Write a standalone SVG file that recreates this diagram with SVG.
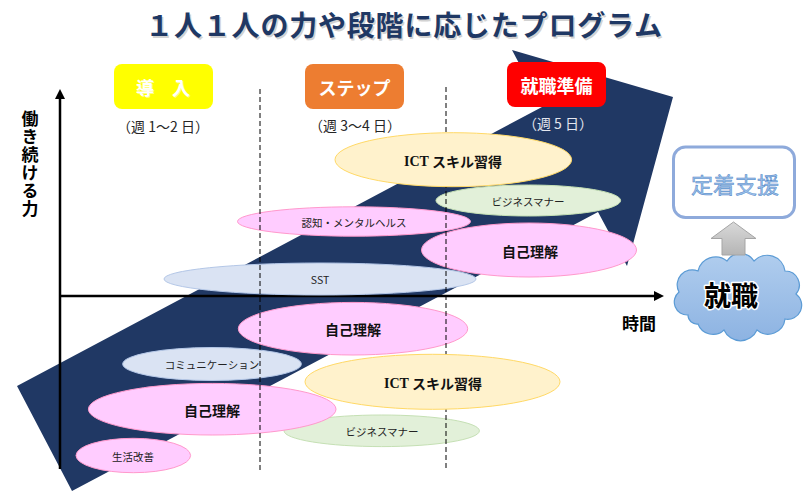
<svg xmlns="http://www.w3.org/2000/svg" width="806" height="494" viewBox="0 0 806 494">
  <defs>
    <style>
      .jp { font-family: "Noto Sans CJK JP", "Noto Sans", sans-serif; }
      .c { text-anchor: middle; dominant-baseline: central; }
      .b { font-weight: 700; }
      .pink { fill: #FFCCFF; stroke: #FF99CC; stroke-width: 1; }
      .blue { fill: #DAE3F3; stroke: #B4C7E7; stroke-width: 1; }
      .green { fill: #E2F0D9; stroke: #C5E0B4; stroke-width: 1; }
      .yel { fill: #FFF2CC; stroke: #FFD966; stroke-width: 1; }
      .big { font-size: 14px; fill: #111; }
      .sm { font-size: 10.5px; fill: #222; }
      .phase { font-size: 18px; fill: #fff; font-weight: 700; }
      .week { font-size: 14px; fill: #262626; }
      .dash { stroke: #000; stroke-width: 1; stroke-dasharray: 5 3; fill: none; }
      .axis { stroke: #000; stroke-width: 2.5; fill: none; }
    </style>
    <marker id="ah" viewBox="0 0 10 10" refX="2" refY="5" markerWidth="4" markerHeight="4" orient="auto" markerUnits="strokeWidth">
      <path d="M0,0 L10,5 L0,10 Z" fill="#000"/>
    </marker>
    <linearGradient id="gArrow" x1="0" y1="0" x2="0" y2="1">
      <stop offset="0" stop-color="#D9D9D9"/>
      <stop offset="1" stop-color="#B5B5B5"/>
    </linearGradient>
    <linearGradient id="gCloud" x1="0" y1="0" x2="0" y2="1">
      <stop offset="0" stop-color="#B0CDEE"/>
      <stop offset="1" stop-color="#8DB3E2"/>
    </linearGradient>
  </defs>

  <!-- Title -->
  <g id="title">
    <text x="405.5" y="37.5" class="jp b" font-size="28" letter-spacing="0.8" text-anchor="middle" fill="#BFBFBF" opacity="0.7">１人１人の力や段階に応じたプログラム</text>
    <text x="404" y="36" class="jp b" font-size="28" letter-spacing="0.8" text-anchor="middle" fill="#1F3864">１人１人の力や段階に応じたプログラム</text>
  </g>

  <!-- Big progress arrow -->
  <g id="progress-arrow">
    <polygon points="17,386 542,107 512,50 673,97 627,266 598,212 72,491" fill="#203864"/>
  </g>

  <!-- Axes -->
  <g id="axes">
    <line class="axis" x1="60" y1="469" x2="60" y2="97" marker-end="url(#ah)"/>
    <line class="axis" x1="59" y1="296" x2="656" y2="296" marker-end="url(#ah)"/>
    <text x="30" y="110" class="jp b" font-size="17" letter-spacing="1" fill="#000" writing-mode="vertical-rl">働き続ける力</text>
    <text x="639" y="322" class="jp c b" font-size="17" fill="#000">時間</text>
  </g>

  <!-- Phase headers -->
  <g id="phase-intro">
    <rect x="114" y="64" width="99" height="45" rx="8" fill="#FFFF00"/>
    <text x="164" y="87.5" class="jp c phase" fill="#999" opacity="0.5">導　入</text>
    <text x="163" y="86.5" class="jp c phase">導　入</text>
    <text x="163" y="125.5" class="jp c week">（週 1～2 日）</text>
  </g>
  <g id="phase-step">
    <rect x="305" y="64" width="99" height="45" rx="8" fill="#ED7D31"/>
    <text x="354.5" y="86.5" class="jp c phase" font-size="19">ステップ</text>
    <text x="355" y="124.5" class="jp c week">（週 3～4 日）</text>
  </g>
  <g id="phase-prep">
    <rect x="507" y="62" width="99" height="45" rx="8" fill="#FF0000"/>
    <text x="556.5" y="84.5" class="jp c phase">就職準備</text>
    <text x="558" y="122.5" class="jp c week" style="fill:#E4E6EE">（週 5 日）</text>
  </g>

  <!-- Program ellipses (behind dashed lines) -->
  <g id="node-ninchi">
    <ellipse class="pink" cx="354" cy="221.5" rx="116.5" ry="14.7"/>
    <text x="354" y="222" class="jp c sm">認知・メンタルヘルス</text>
  </g>
  <g id="node-business-upper">
    <ellipse class="green" cx="528.3" cy="200.5" rx="92.3" ry="15.5"/>
    <text x="528" y="201" class="jp c sm">ビジネスマナー</text>
  </g>
  <g id="node-sst">
    <ellipse class="blue" cx="320" cy="279" rx="156" ry="16"/>
    <text x="320" y="279.5" class="jp c sm" font-size="10">SST</text>
  </g>
  <g id="node-jiko-upper">
    <ellipse class="pink" cx="529" cy="250" rx="107.5" ry="27"/>
    <text x="530" y="251" class="jp c b big">自己理解</text>
  </g>
  <g id="node-jiko-mid">
    <ellipse class="pink" cx="353" cy="328.7" rx="114.7" ry="26.3"/>
    <text x="353" y="329" class="jp c b big">自己理解</text>
  </g>
  <g id="node-comm">
    <ellipse class="blue" cx="212" cy="364" rx="89.3" ry="16.5"/>
    <text x="212" y="364.5" class="jp c sm">コミュニケーション</text>
  </g>
  <g id="node-business-lower">
    <ellipse class="green" cx="381.7" cy="430.8" rx="97.7" ry="15.8"/>
    <text x="382" y="431.5" class="jp c sm">ビジネスマナー</text>
  </g>
  <g id="node-jiko-lower">
    <ellipse class="pink" cx="212.2" cy="409.2" rx="123.8" ry="25.8"/>
    <text x="212" y="409.5" class="jp c b big">自己理解</text>
  </g>
  <g id="node-seikatsu">
    <ellipse class="pink" cx="133.3" cy="455.5" rx="57.3" ry="17.2"/>
    <text x="133" y="456" class="jp c sm" font-size="10">生活改善</text>
  </g>

  <!-- Phase separators -->
  <g id="separators">
    <line class="dash" x1="260" y1="89" x2="260" y2="471"/>
    <line class="dash" x1="446" y1="87" x2="446" y2="471"/>
  </g>

  <!-- ICT ellipses (above dashed lines) -->
  <g id="node-ict-upper">
    <ellipse class="yel" cx="453.3" cy="159.7" rx="118.3" ry="27"/>
    <text x="453" y="160.5" class="c b big" font-size="15"><tspan font-family="Liberation Serif, serif">ICT</tspan><tspan class="jp" font-family="Noto Sans CJK JP, sans-serif"> スキル習得</tspan></text>
  </g>
  <g id="node-ict-lower">
    <ellipse class="yel" cx="432.5" cy="381.8" rx="127.5" ry="27.5"/>
    <text x="433" y="382.5" class="c b big" font-size="15"><tspan font-family="Liberation Serif, serif">ICT</tspan><tspan class="jp" font-family="Noto Sans CJK JP, sans-serif"> スキル習得</tspan></text>
  </g>

  <!-- Outcome nodes -->
  <g id="node-teichaku">
    <rect x="673.5" y="147" width="121" height="70.5" rx="12" fill="#FFFFFF" stroke="#8EAADB" stroke-width="3"/>
    <text x="735" y="182.5" class="jp c" font-size="22" fill="#9CC0EA" stroke="#4F86C6" stroke-width="0.5">定着支援</text>
  </g>
  <g id="node-shushoku">
    <path d="M688,315 A13,13 0 0 1 679,292 A15,15 0 0 1 698,271 A18,18 0 0 1 727,261 A16,16 0 0 1 754,261 A18,18 0 0 1 785,271 A14,14 0 0 1 796,294 A14,14 0 0 1 785,319 A17,17 0 0 1 757,330 A18,18 0 0 1 724,330 A16,16 0 0 1 698,324 A9,9 0 0 1 688,315 Z" fill="url(#gCloud)" stroke="#5B9BD5" stroke-width="1.2"/>
    <text x="731" y="294" class="jp c b" font-size="27" fill="#000" stroke="#FFFFFF" stroke-width="3" paint-order="stroke" stroke-linejoin="round">就職</text>
  </g>

  <!-- Connectors -->
  <g id="connectors">
    <polygon points="733.5,222 756,238.5 745,238.5 745,255 722,255 722,238.5 711,238.5" fill="url(#gArrow)" stroke="#A5A5A5" stroke-width="1"/>
  </g>
</svg>
